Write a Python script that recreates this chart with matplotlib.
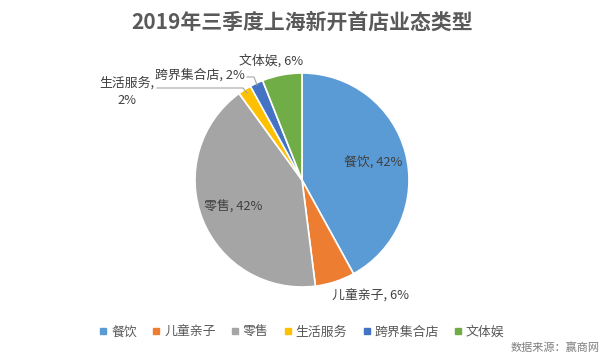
import matplotlib
matplotlib.use("Agg")
import matplotlib.pyplot as plt
from matplotlib.lines import Line2D

plt.rcParams['font.family'] = ['Noto Sans CJK SC', 'DejaVu Sans']

categories = ["餐饮", "儿童亲子", "零售", "生活服务", "跨界集合店", "文体娱"]
shares = [42, 6, 42, 2, 2, 6]
colors = ["#5B9BD5", "#ED7D31", "#A5A5A5", "#FFC000", "#4472C4", "#70AD47"]
title = "2019年三季度上海新开首店业态类型"
source = "数据来源：赢商网"

W, H = 607, 356
fig = plt.figure(figsize=(W / 100, H / 100), dpi=100)

# pie axes: centre (302,180) px, radius 107 px
cx, cy, r = 302, 180, 107
ax = fig.add_axes([(cx - r) / W, (H - cy - r) / H, 2 * r / W, 2 * r / H])
wedges, _ = ax.pie(shares, colors=colors, startangle=90, counterclock=False,
                   radius=1, wedgeprops=dict(edgecolor="white", linewidth=1.2))
ax.set_xlim(-1, 1)
ax.set_ylim(-1, 1)
ax.set_aspect("equal")
ax.axis("off")


def px(x, y):
    # pixel -> data coords of pie axes
    return (x - cx) / r, (cy - y) / r


lab_c = "#404040"
fs = 9.3
labels = [f"{c}, {v}%" for c, v in zip(categories, shares)]

ax.text(*px(373, 162), labels[0], ha="center", va="center", fontsize=fs, color=lab_c)
ax.text(*px(370, 296), labels[1], ha="center", va="center", fontsize=fs, color=lab_c)
ax.text(*px(233, 207), labels[2], ha="center", va="center", fontsize=fs, color=lab_c)
ax.text(*px(127, 83), categories[3] + ",", ha="center", va="center", fontsize=fs, color=lab_c)
ax.text(*px(127, 101), f"{shares[3]}%", ha="center", va="center", fontsize=fs, color=lab_c)
ax.text(*px(200, 75), labels[4], ha="center", va="center", fontsize=fs, color=lab_c)
ax.text(*px(271, 61), labels[5], ha="center", va="center", fontsize=fs, color=lab_c)

# leader lines
lc = "#A6A6A6"
x1, y1 = zip(px(157, 88), px(243, 88), px(247, 93))
ax.plot(x1, y1, color=lc, lw=0.8, clip_on=False)
x2, y2 = zip(px(247, 77), px(254, 77), px(257, 85))
ax.plot(x2, y2, color=lc, lw=0.8, clip_on=False)

fig.text(cx / W, 1 - 22 / H, title, ha="center", va="center",
         fontsize=15, fontweight="bold", color="#595959")

handles = [Line2D([], [], marker="s", linestyle="none", markersize=4.5,
                  markerfacecolor=c, markeredgecolor=c) for c in colors]
fig.legend(handles, categories, loc="center", bbox_to_anchor=(cx / W, 1 - 332 / H),
           ncol=6, frameon=False, fontsize=9.3, labelcolor="#595959",
           handlelength=0.6, handletextpad=0.3, columnspacing=1.2)

fig.text(600 / W, 1 - 348 / H, source, ha="right", va="center",
         fontsize=8, color="#7F7F7F")

fig.savefig("out.png", dpi=100, facecolor="white")
